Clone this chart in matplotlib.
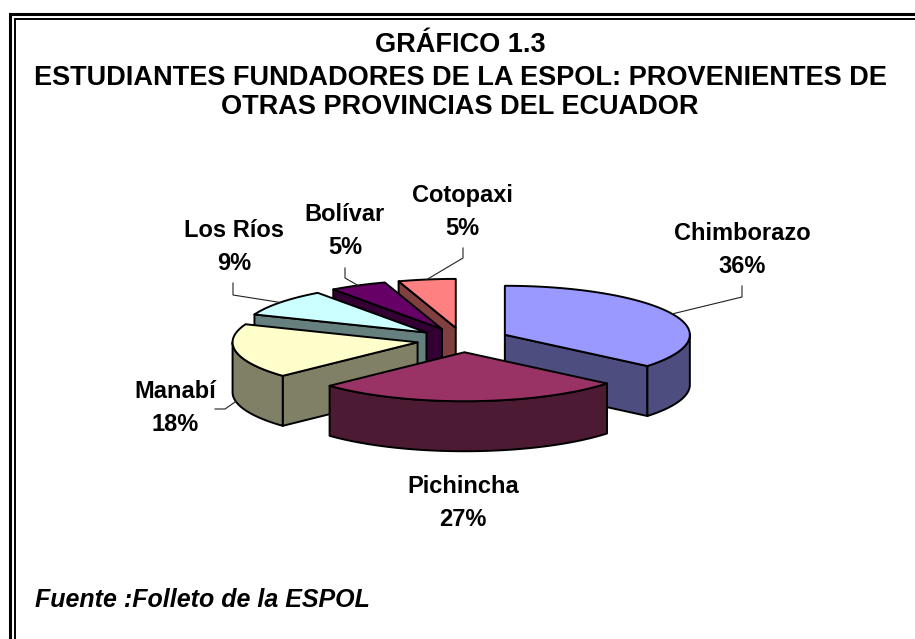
import numpy as np
import matplotlib
matplotlib.use("Agg")
import matplotlib.pyplot as plt
from matplotlib.patches import Polygon
from matplotlib.lines import Line2D

# ---- data ----
categories = ["Chimborazo", "Pichincha", "Manabí", "Los Ríos", "Bolívar", "Cotopaxi"]
values = [36, 27, 18, 9, 5, 5]
colors = ["#9999FF", "#993366", "#FFFFCC", "#CCFFFF", "#660066", "#FF8080"]
title_lines = ["GRÁFICO 1.3",
               "ESTUDIANTES FUNDADORES DE LA ESPOL: PROVENIENTES DE",
               "OTRAS PROVINCIAS DEL ECUADOR"]
source_text = "Fuente :Folleto de la ESPOL"

# ---- layout (pixel units) ----
W, H_FIG = 915, 639
C0 = (463.0, 340.0)
RX, RY = 185.0, 49.0
EXPLODE = 0.25
DEPTH = 50.0
label_pos = {"Chimborazo": (742, 250), "Pichincha": (463, 503), "Manabí": (175, 408),
             "Los Ríos": (234, 247), "Bolívar": (345, 231), "Cotopaxi": (462, 212)}
leader_pts = {"Chimborazo": [(742, 286), (742, 297)],
              "Los Ríos": [(233, 283), (233, 295)],
              "Bolívar": [(345, 268), (345, 278)],
              "Cotopaxi": [(463, 248), (463, 258)],
              "Manabí": [(215, 409), (225, 409)]}

FONT = "Liberation Sans"

fig = plt.figure(figsize=(W / 100, H_FIG / 100), dpi=100)
ax = fig.add_axes([0, 0, 1, 1])
ax.set_xlim(0, W)
ax.set_ylim(H_FIG, 0)
ax.axis("off")


def darken(c, f=0.5):
    r, g, b = matplotlib.colors.to_rgb(c)
    return (r * f, g * f, b * f)


total = float(sum(values))
cum = np.concatenate([[0], np.cumsum(values)]) / total
slices = []
for i, cat in enumerate(categories):
    hi = 90.0 - cum[i] * 360.0
    lo = 90.0 - cum[i + 1] * 360.0
    mid = np.radians((lo + hi) / 2)
    cx = C0[0] + EXPLODE * RX * np.cos(mid)
    cy = C0[1] - EXPLODE * RY * np.sin(mid)
    slices.append(dict(cat=cat, lo=lo, hi=hi, mid=mid, cx=cx, cy=cy,
                       color=colors[i], val=values[i]))


def arc(s, t0, t1, dz=0.0, n=80):
    t = np.radians(np.linspace(t0, t1, n))
    return np.column_stack([s["cx"] + RX * np.cos(t), s["cy"] - RY * np.sin(t) + dz])


EDGE = dict(edgecolor="black", linewidth=1.4, joinstyle="round")

for s in sorted(slices, key=lambda d: d["cy"]):
    lo, hi = s["lo"], s["hi"]
    side = darken(s["color"])
    ctop = (s["cx"], s["cy"])
    cbot = (s["cx"], s["cy"] + DEPTH)
    # radial faces
    for ang, vis in ((lo, np.cos(np.radians(lo)) > 1e-6), (hi, np.cos(np.radians(hi)) < -1e-6)):
        if vis:
            p = arc(s, ang, ang, n=1)[0]
            poly = [ctop, tuple(p), (p[0], p[1] + DEPTH), cbot]
            ax.add_patch(Polygon(poly, closed=True, facecolor=side, zorder=2, **EDGE))
    # outer wall (front half: sin < 0)
    for k in (-1, 0, 1):
        a0 = max(lo, 180 + 360 * k)
        a1 = min(hi, 360 + 360 * k)
        if a1 > a0:
            top = arc(s, a0, a1)
            bot = arc(s, a1, a0, dz=DEPTH)
            ax.add_patch(Polygon(np.vstack([top, bot]), closed=True, facecolor=side,
                                 zorder=2, **EDGE))
    # top face
    pts = np.vstack([[ctop], arc(s, lo, hi)])
    ax.add_patch(Polygon(pts, closed=True, facecolor=s["color"], zorder=2, **EDGE))

# ---- labels and leaders ----
for s in slices:
    cat = s["cat"]
    lx, ly = label_pos[cat]
    ax.text(lx, ly, f"{cat}\n{s['val']:.0f}%", ha="center", va="center",
            fontsize=17, fontweight="bold", family=FONT, linespacing=1.55, zorder=5)
    if cat in leader_pts:
        m = np.degrees(s["mid"])
        p = arc(s, m, m, n=1)[0]
        if np.sin(s["mid"]) < 0:
            p = (p[0], p[1] + DEPTH)
        xs = [q[0] for q in leader_pts[cat]] + [p[0]]
        ys = [q[1] for q in leader_pts[cat]] + [p[1]]
        ax.add_line(Line2D(xs, ys, color="#222222", linewidth=0.8, zorder=4))

# ---- title ----
title_y = [45, 78, 107]
for t, y in zip(title_lines, title_y):
    ax.text(460, y, t, ha="center", va="center", fontsize=19.5, fontweight="bold",
            family=FONT)

ax.text(35, 600, source_text, ha="left", va="center", fontsize=18, fontweight="bold",
        fontstyle="italic", family=FONT)

# ---- frame ----
ax.add_line(Line2D([9.5, 9.5, W], [H_FIG, 13.5, 13.5], color="black", linewidth=2.2,
                   solid_joinstyle="miter"))
ax.add_line(Line2D([15, 15, W], [H_FIG, 19, 19], color="black", linewidth=1.4,
                   solid_joinstyle="miter"))

fig.savefig("out.png", dpi=100)
